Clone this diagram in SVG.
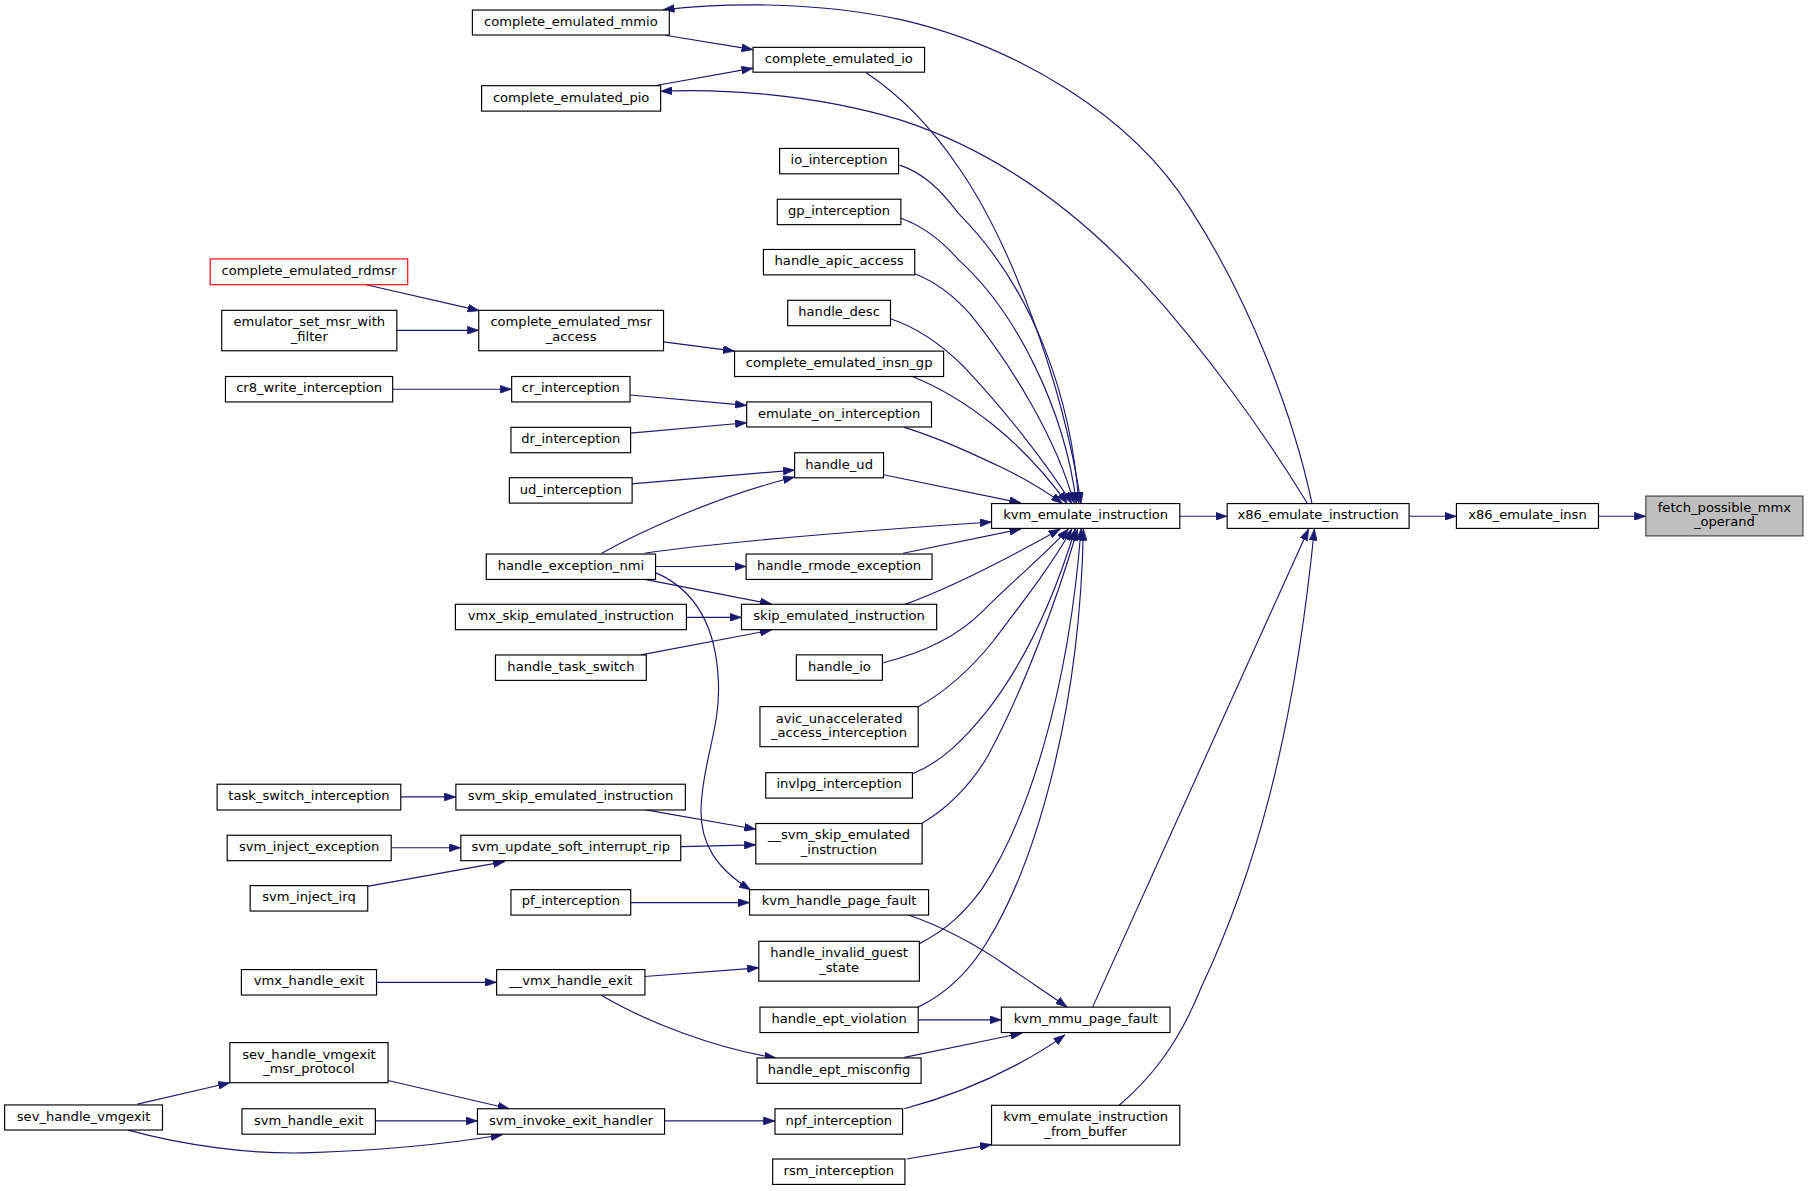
<svg xmlns="http://www.w3.org/2000/svg" width="1811" height="1191" viewBox="0 0 1811 1191">
<style>
.n rect{fill:#fff;stroke:#000;stroke-width:1}
.n text{font-family:"DejaVu Sans","Liberation Sans",sans-serif;font-size:11.35px;text-anchor:middle;fill:#000}
.s text{transform:translateY(-1.3px)}
.e path{fill:none;stroke:#191970;stroke-width:1;marker-end:url(#a)}
</style>
<defs>
<marker id="a" viewBox="0 0 10 7" refX="10" refY="3.5" markerWidth="10" markerHeight="7" markerUnits="userSpaceOnUse" orient="auto">
<path d="M0,0 L10,3.5 L0,7 z" fill="#191970" stroke="#191970" stroke-width="0.5"/>
</marker>
</defs>
<rect width="1811" height="1191" fill="#fff"/>
<g transform="scale(1.15497)">
<g id="edges" class="e">
<path d="M1384,447 L1425,447"/>
<path d="M1220,447 L1261,447"/>
<path d="M1021.5,447 L1062.5,447"/>
<path d="M1136,436 C1120,360 1082,260 1030,180 C980,100 880,40 780,17 C700,0 620,3 574,8.5"/>
<path d="M1132,436 C1092,370 1040,300 990,245 C930,180 860,130 780,104 C700,80 620,77 572,79"/>
<path d="M576,30.5 L652,43"/>
<path d="M568,74 L652,59"/>
<path d="M750,63 C780,83 805,108 830,145 C875,210 920,330 936,436"/>
<path d="M779,143 C800,150 815,165 830,185 C895,250 928,345 934,436"/>
<path d="M780,189 C800,196 815,208 830,225 C880,270 922,355 932,436"/>
<path d="M792,237 C810,244 825,255 840,272 C875,315 915,380 930,436"/>
<path d="M771,276 C795,284 815,298 835,318 C870,355 905,400 928,436"/>
<path d="M790,326 C815,336 840,352 860,368 C885,388 905,410 924,436"/>
<path d="M783,370 C815,380 840,392 870,406 C888,415 905,425 920,436"/>
<path d="M765,411 L884,435.5"/>
<path d="M558,479 C620,470 740,460 858.5,452"/>
<path d="M782,479 L884,458"/>
<path d="M783,523.5 C820,510 870,485 918,458"/>
<path d="M764,574 C800,565 830,550 850,530 C880,500 905,480 925,458"/>
<path d="M795,612 C820,598 840,580 860,555 C885,522 910,490 928,458"/>
<path d="M790,670 C815,660 835,640 855,615 C890,570 915,510 931,458"/>
<path d="M798,713 C820,700 840,680 855,655 C885,600 915,520 933,458"/>
<path d="M796,817 C820,805 835,790 850,770 C890,710 925,600 936,458"/>
<path d="M795,872 C820,860 840,840 855,815 C895,750 935,620 938,458"/>
<path d="M946,872 L1133,458"/>
<path d="M969,957 C995,935 1020,905 1040,855 C1085,760 1120,640 1138,458"/>
<path d="M317,246.5 L415,269"/>
<path d="M343.5,286 L414.5,286"/>
<path d="M574.5,296 L636,304"/>
<path d="M340,337 L443,337"/>
<path d="M545.6,342 L646.5,351"/>
<path d="M546,375 L646.5,366"/>
<path d="M547,419 L688,407"/>
<path d="M521,479 C555,460 620,430 688,413"/>
<path d="M567.5,490.5 L646,490.5"/>
<path d="M555,501 L668,523"/>
<path d="M594,534.5 L642,534.5"/>
<path d="M555,567 L668,545.5"/>
<path d="M568,496 C600,510 620,540 622,590 C624,630 608,660 607,700 C606,730 620,752 650,770.5"/>
<path d="M347,690 L394.7,690"/>
<path d="M558,701 L654.4,718"/>
<path d="M589.5,733 L654.4,731.5"/>
<path d="M339,734 L399,734"/>
<path d="M318,767.5 L437,746"/>
<path d="M546,781.5 L649,781.5"/>
<path d="M326,850.5 L430,850.5"/>
<path d="M558,845.5 L657,838"/>
<path d="M521,862 C560,885 620,908 672,916"/>
<path d="M786,792 C815,802 845,818 870,835 C890,849 910,862 924,872"/>
<path d="M795,883 L867,883"/>
<path d="M783,915.5 L885,894.5"/>
<path d="M783,960 C820,950 850,938 880,922 C895,914 910,905 922,896"/>
<path d="M785,1003.5 L858.5,991"/>
<path d="M575.5,970.5 L671,970.5"/>
<path d="M119,956 L199,937.5"/>
<path d="M336,935.5 L441,960"/>
<path d="M325,970.5 L413.4,970.5"/>
<path d="M111,978.5 C160,992 220,1000 270,998 C330,996 390,990 435,982.5"/>
</g>
<g id="n1" class="n"><rect x="1425" y="429.5" width="136" height="34.5" style="fill:#bfbfbf;stroke:#404040"/><text x="1493" y="443.3">fetch_possible_mmx</text><text x="1493" y="455.8">_operand</text></g>
<g id="n2" class="n s"><rect x="1261" y="436" width="123" height="21.5"/><text x="1322.5" y="451">x86_emulate_insn</text></g>
<g id="n3" class="n s"><rect x="1062.5" y="436" width="157.5" height="21.5"/><text x="1141.25" y="451">x86_emulate_instruction</text></g>
<g id="n4" class="n s"><rect x="858.5" y="436" width="163" height="21.5"/><text x="940" y="451">kvm_emulate_instruction</text></g>
<g id="n5" class="n s"><rect x="867" y="872" width="146" height="22"/><text x="940" y="887">kvm_mmu_page_fault</text></g>
<g id="n6" class="n"><rect x="858.5" y="957" width="163" height="34.5"/><text x="940" y="970.8">kvm_emulate_instruction</text><text x="940" y="983.3">_from_buffer</text></g>
<g id="n7" class="n s"><rect x="652" y="41" width="148.5" height="21.5"/><text x="726.25" y="56">complete_emulated_io</text></g>
<g id="n8" class="n s"><rect x="675" y="128.5" width="103" height="22"/><text x="726.5" y="143.5">io_interception</text></g>
<g id="n9" class="n s"><rect x="673" y="172.5" width="107" height="22"/><text x="726.5" y="187.5">gp_interception</text></g>
<g id="n10" class="n s"><rect x="661" y="216" width="131" height="22"/><text x="726.5" y="231">handle_apic_access</text></g>
<g id="n11" class="n s"><rect x="682" y="260" width="89" height="22"/><text x="726.5" y="275">handle_desc</text></g>
<g id="n12" class="n s"><rect x="636" y="304" width="181" height="22"/><text x="726.5" y="319">complete_emulated_insn_gp</text></g>
<g id="n13" class="n s"><rect x="646.5" y="348" width="160" height="21.7"/><text x="726.5" y="363">emulate_on_interception</text></g>
<g id="n14" class="n s"><rect x="688" y="392" width="77" height="21.7"/><text x="726.5" y="407">handle_ud</text></g>
<g id="n15" class="n s"><rect x="646" y="479.7" width="161" height="22"/><text x="726.5" y="494.7">handle_rmode_exception</text></g>
<g id="n16" class="n s"><rect x="642" y="523.2" width="169" height="22"/><text x="726.5" y="538.2">skip_emulated_instruction</text></g>
<g id="n17" class="n s"><rect x="689.5" y="567" width="74.5" height="22"/><text x="726.75" y="582">handle_io</text></g>
<g id="n18" class="n"><rect x="658" y="611.8" width="137" height="34.7"/><text x="726.5" y="625.6">avic_unaccelerated</text><text x="726.5" y="638.1">_access_interception</text></g>
<g id="n19" class="n s"><rect x="663" y="669" width="127" height="22"/><text x="726.5" y="684">invlpg_interception</text></g>
<g id="n20" class="n"><rect x="654.4" y="713" width="144" height="35"/><text x="726.4" y="726.8">__svm_skip_emulated</text><text x="726.4" y="739.3">_instruction</text></g>
<g id="n21" class="n s"><rect x="649" y="770.3" width="155" height="22"/><text x="726.5" y="785.3">kvm_handle_page_fault</text></g>
<g id="n22" class="n"><rect x="657" y="815" width="139" height="34.5"/><text x="726.5" y="828.8">handle_invalid_guest</text><text x="726.5" y="841.3">_state</text></g>
<g id="n23" class="n s"><rect x="658" y="872" width="137" height="22"/><text x="726.5" y="887">handle_ept_violation</text></g>
<g id="n24" class="n s"><rect x="655.5" y="916" width="142" height="22"/><text x="726.5" y="931">handle_ept_misconfig</text></g>
<g id="n25" class="n s"><rect x="671" y="960" width="110.5" height="22"/><text x="726.25" y="975">npf_interception</text></g>
<g id="n26" class="n s"><rect x="669" y="1003.5" width="114.5" height="22"/><text x="726.25" y="1018.5">rsm_interception</text></g>
<g id="n27" class="n s"><rect x="409" y="8.7" width="170.5" height="21.6"/><text x="494.25" y="23.7">complete_emulated_mmio</text></g>
<g id="n28" class="n s"><rect x="417" y="74.2" width="155" height="22"/><text x="494.5" y="89.2">complete_emulated_pio</text></g>
<g id="n29" class="n"><rect x="414.5" y="268.7" width="160" height="35"/><text x="494.5" y="282.5">complete_emulated_msr</text><text x="494.5" y="295">_access</text></g>
<g id="n30" class="n s"><rect x="443" y="326" width="102.5" height="22"/><text x="494.25" y="341">cr_interception</text></g>
<g id="n31" class="n s"><rect x="442.4" y="370" width="103.6" height="22"/><text x="494.2" y="385">dr_interception</text></g>
<g id="n32" class="n s"><rect x="441" y="413.6" width="106.3" height="22"/><text x="494.15" y="428.6">ud_interception</text></g>
<g id="n33" class="n s"><rect x="421" y="479.7" width="146.6" height="22"/><text x="494.3" y="494.7">handle_exception_nmi</text></g>
<g id="n34" class="n s"><rect x="394.3" y="523.2" width="200" height="22"/><text x="494.3" y="538.2">vmx_skip_emulated_instruction</text></g>
<g id="n35" class="n s"><rect x="429" y="567.1" width="130.6" height="22"/><text x="494.3" y="582.1">handle_task_switch</text></g>
<g id="n36" class="n s"><rect x="394.7" y="679" width="198.7" height="22.3"/><text x="494" y="694">svm_skip_emulated_instruction</text></g>
<g id="n37" class="n s"><rect x="399" y="723.2" width="190.4" height="22"/><text x="494.2" y="738.2">svm_update_soft_interrupt_rip</text></g>
<g id="n38" class="n s"><rect x="442.4" y="770.3" width="103.7" height="22"/><text x="494.25" y="785.3">pf_interception</text></g>
<g id="n39" class="n s"><rect x="430" y="839.5" width="128.4" height="22"/><text x="494.2" y="854.5">__vmx_handle_exit</text></g>
<g id="n40" class="n s"><rect x="413.4" y="960" width="162" height="22"/><text x="494.4" y="975">svm_invoke_exit_handler</text></g>
<g id="n41" class="n s"><rect x="182" y="224.2" width="171" height="22.3" style="stroke:#f00"/><text x="267.5" y="239.2">complete_emulated_rdmsr</text></g>
<g id="n42" class="n"><rect x="192" y="268.7" width="151.6" height="35"/><text x="267.8" y="282.5">emulator_set_msr_with</text><text x="267.8" y="295">_filter</text></g>
<g id="n43" class="n s"><rect x="195.2" y="326" width="144.8" height="22"/><text x="267.6" y="341">cr8_write_interception</text></g>
<g id="n44" class="n s"><rect x="188" y="679" width="159" height="22.3"/><text x="267.5" y="694">task_switch_interception</text></g>
<g id="n45" class="n s"><rect x="196.7" y="723.2" width="142" height="22"/><text x="267.7" y="738.2">svm_inject_exception</text></g>
<g id="n46" class="n s"><rect x="216.6" y="766.8" width="101.8" height="22"/><text x="267.5" y="781.8">svm_inject_irq</text></g>
<g id="n47" class="n s"><rect x="209" y="839.5" width="117" height="22"/><text x="267.5" y="854.5">vmx_handle_exit</text></g>
<g id="n48" class="n"><rect x="199" y="902.7" width="137" height="34.7"/><text x="267.5" y="916.5">sev_handle_vmgexit</text><text x="267.5" y="929">_msr_protocol</text></g>
<g id="n49" class="n s"><rect x="209.5" y="960" width="115.5" height="22"/><text x="267.25" y="975">svm_handle_exit</text></g>
<g id="n50" class="n s"><rect x="4" y="956.7" width="136.7" height="21.7"/><text x="72.35" y="971.5">sev_handle_vmgexit</text></g>
</g>
</svg>
